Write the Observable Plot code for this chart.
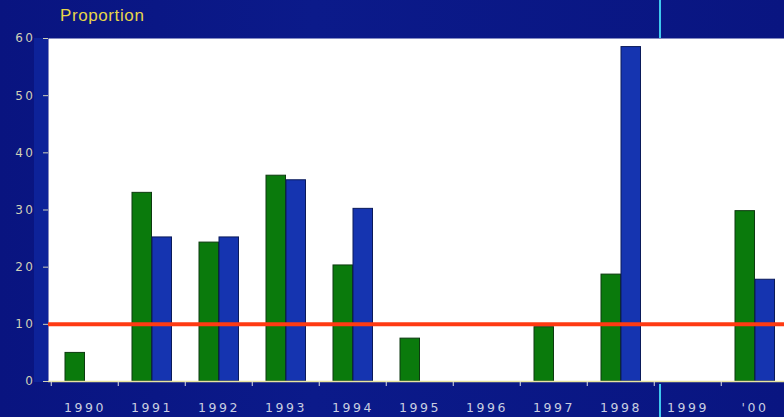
<!DOCTYPE html>
<html>
<head>
<meta charset="utf-8">
<script src="https://cdn.jsdelivr.net/npm/d3@7"></script>
<script src="https://cdn.jsdelivr.net/npm/@observablehq/plot@0.6"></script>
<style>
  html, body { margin: 0; padding: 0; background: #0a1784; }
  #wrap { position: relative; width: 784px; height: 417px; overflow: hidden;
    background: linear-gradient(90deg, #091480 0%, #0b1a8a 40%, #091581 100%); }
  #title { position: absolute; left: 60px; top: 6px; font: 17px "Liberation Sans", Arial, sans-serif;
    color: #e6d54a; letter-spacing: 0.6px; }
  #band { position: absolute; left: 34px; top: 38px; width: 14px; height: 344px; background: #0d2299; }
  #cyan1 { position: absolute; left: 659px; top: 0; width: 2px; height: 38px; background: #3fc9ee; }
  #cyan2 { position: absolute; left: 659px; top: 384px; width: 2px; height: 33px; background: #3fc9ee; }
  svg { position: absolute; left: 0; top: 0; overflow: hidden; }
  g[aria-label="x-axis tick label"] text { letter-spacing: 2.6px; }
  g[aria-label="y-axis tick label"] text { letter-spacing: 2.5px; }
</style>
</head>
<body>
<div id="wrap">
  <div id="band"></div>
  <div id="title">Proportion</div>
</div>
<script>
const years = ["1990","1991","1992","1993","1994","1995","1996","1997","1998","1999","'00"];
const greenValues = [5, 33, 24.3, 36, 20.3, 7.5, null, 9.5, 18.7, null, 29.8];
const blueValues  = [null, 25.2, 25.2, 35.2, 30.2, null, null, null, 58.5, null, 17.8];
const yTicks = [0, 10, 20, 30, 40, 50, 60];
const referenceLevel = 10;

const green = years.map((y, i) => ({year: y, value: greenValues[i]})).filter(d => d.value != null);
const blue  = years.map((y, i) => ({year: y, value: blueValues[i]})).filter(d => d.value != null);

const chart = Plot.plot({
  width: 784,
  height: 417,
  marginLeft: 48,
  marginTop: 38,
  marginBottom: 36,
  marginRight: 0,
  style: {background: "transparent", fontFamily: "'DejaVu Sans', sans-serif"},
  x: {domain: years, range: [48, 790.5], padding: 0, label: null},
  y: {domain: [0, 60], label: null},
  marks: [
    Plot.frame({fill: "white", stroke: "none"}),
    Plot.barY(green, {x: "year", y: "value", insetLeft: 14, insetRight: 33.5, fill: "#0a7a0c", stroke: "#0d3a10", strokeWidth: 1}),
    Plot.barY(blue, {x: "year", y: "value", insetLeft: 34, insetRight: 13.5, fill: "#1534b0", stroke: "#0a1a5a", strokeWidth: 1}),
    Plot.ruleY([referenceLevel], {stroke: "#ff3a12", strokeWidth: 4}),
    Plot.ruleY([0], {stroke: "#e8e4a0", strokeWidth: 1.5}),
    Plot.ruleX(years, {x: d => d, dx: -33.75, y1: 0, y2: 0, insetBottom: -5, stroke: "#e0e0e0", strokeWidth: 1}),
    Plot.axisY({ticks: yTicks, tickSize: 5, tickPadding: 8, fill: "#d0d0b8", stroke: "#d0d0b8",
      fontSize: 12, label: null}),
    Plot.axisX({tickSize: 0, tickPadding: 22, dx: 0, fill: "#c8cee0", fontSize: 12.5, label: null})
  ]
});
const wrap = document.getElementById("wrap");
wrap.insertBefore(chart, document.getElementById("title"));
const c1 = document.createElement("div"); c1.id = "cyan1"; wrap.appendChild(c1);
const c2 = document.createElement("div"); c2.id = "cyan2"; wrap.appendChild(c2);
</script>
</body>
</html>
